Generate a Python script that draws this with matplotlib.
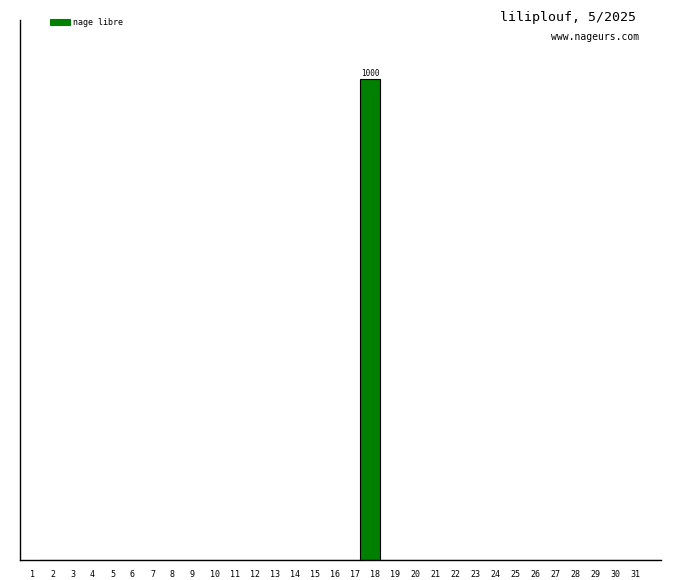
import matplotlib
matplotlib.use("Agg")
import matplotlib.pyplot as plt

# ── Daten ─────────────────────────────────────────────────────────────────────
days = list(range(1, 32))
day_labels = [str(d) for d in days]
distance = [0] * 31
distance[17 - 1] = 1000     # 18. Tag (Slot 17..18)
series_name = "nage libre"
title = "liliplouf, 5/2025"
subtitle = "www.nageurs.com"

GREEN = "#008000"
MONO = "DejaVu Sans Mono"

fig = plt.figure(figsize=(6.8, 5.8), dpi=100)
ax = fig.add_axes([20 / 680, 20 / 580, 641 / 680, 540 / 580])

# Balken: Slot d-1 .. d, daher align="edge"
bars = ax.bar(days, distance, width=1.0, align="edge",
              color=GREEN, edgecolor="black", linewidth=0.8)
for rect, v in zip(bars, distance):
    if v > 0:
        ax.text(rect.get_x() + rect.get_width() / 2, v + 2, str(v),
                ha="center", va="bottom", fontsize=5.5, family=MONO)

ax.set_xlim(0, 32.05)
ax.set_ylim(0, 1000 * 540 / 481)

for s in ("top", "right"):
    ax.spines[s].set_visible(False)
for s in ("left", "bottom"):
    ax.spines[s].set_linewidth(1.0)

ax.set_yticks([])
ax.set_xticks([d - 0.5 for d in days], day_labels)
ax.tick_params(axis="x", length=0, pad=7, labelsize=6)
for lab in ax.get_xticklabels():
    lab.set_ha("left")
    lab.set_family(MONO)

# Legende
leg = ax.legend([bars], [series_name], loc="upper left", frameon=False,
                prop={"family": MONO, "size": 6},
                handlelength=2.4, handleheight=0.7, handletextpad=0.4,
                borderaxespad=0.0, borderpad=0.0)
leg.set_bbox_to_anchor((50 / 680, 562 / 580), transform=fig.transFigure)
for h in leg.legend_handles:
    h.set_edgecolor(GREEN)

fig.text(636 / 680, 1 - 18 / 580, title, ha="right", va="center",
         fontsize=9.5, family=MONO)
fig.text(639 / 680, 1 - 37 / 580, subtitle, ha="right", va="center",
         fontsize=7, family=MONO)

fig.savefig("out.png", dpi=100)
